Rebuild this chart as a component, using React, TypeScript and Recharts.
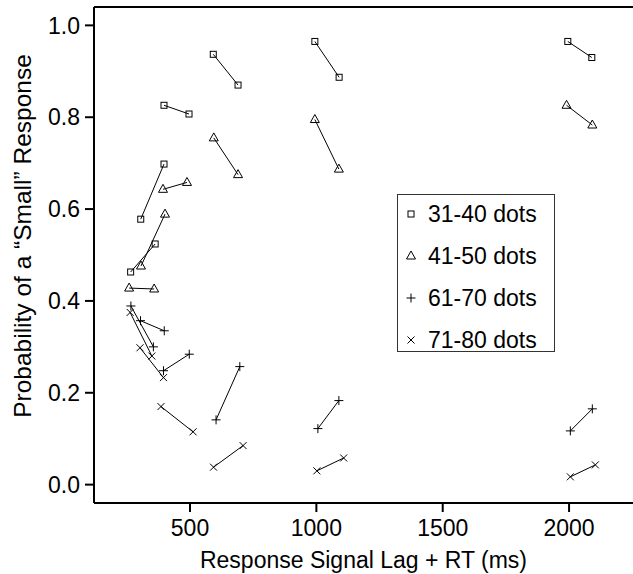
import { ScatterChart, Scatter, XAxis, YAxis, ReferenceLine } from 'recharts'

// pairs are consecutive: [lag, lag + RT]
const squareLag = [265, 362, 305, 397, 397, 496, 592, 690, 994, 1090, 1995, 2090]
const squareProb = [0.463, 0.524, 0.578, 0.698, 0.826, 0.807, 0.937, 0.87, 0.965, 0.887, 0.965, 0.93]

const triangleLag = [259, 358, 306, 401, 393, 488, 594, 690, 994, 1089, 1990, 2092]
const triangleProb = [0.428, 0.426, 0.476, 0.589, 0.643, 0.658, 0.755, 0.675, 0.795, 0.687, 0.826, 0.783]

const plusLag = [266, 355, 304, 398, 395, 497, 603, 697, 1006, 1089, 2005, 2092]
const plusProb = [0.389, 0.3, 0.357, 0.335, 0.248, 0.284, 0.141, 0.257, 0.122, 0.183, 0.117, 0.165]

const crossLag = [263, 349, 302, 395, 385, 512, 593, 710, 1002, 1108, 2005, 2104]
const crossProb = [0.375, 0.28, 0.298, 0.233, 0.17, 0.115, 0.038, 0.085, 0.03, 0.058, 0.017, 0.043]

const legendLabels = ['31-40 dots', '41-50 dots', '61-70 dots', '71-80 dots']
const xTicks = [500, 1000, 1500, 2000]
const yTicks = [0, 0.2, 0.4, 0.6, 0.8, 1.0]

const X_DOMAIN: [number, number] = [120, 2253]
const Y_DOMAIN: [number, number] = [-0.04, 1.04]
const FONT = '"Liberation Sans", Arial, Helvetica, sans-serif'
const TICK_FONT = 23

type Pt = { x: number; y: number }

const toPairs = (xs: number[], ys: number[]) => {
  const out: Pt[][] = []
  for (let i = 0; i < xs.length; i += 2) {
    out.push([
      { x: xs[i], y: ys[i] },
      { x: xs[i + 1], y: ys[i + 1] },
    ])
  }
  return out
}

type Kind = 'square' | 'triangle' | 'plus' | 'cross'

const Marker = ({ kind, cx, cy }: { kind: Kind; cx: number; cy: number }) => {
  const s = { stroke: '#000', strokeWidth: 1, fill: 'none' }
  if (kind === 'square') return <rect x={cx - 3} y={cy - 3} width={6} height={6} {...s} />
  if (kind === 'triangle')
    return <polygon points={`${cx},${cy - 5} ${cx - 4.5},${cy + 3} ${cx + 4.5},${cy + 3}`} {...s} />
  if (kind === 'plus')
    return (
      <g {...s}>
        <line x1={cx - 4.5} y1={cy} x2={cx + 4.5} y2={cy} />
        <line x1={cx} y1={cy - 4.5} x2={cx} y2={cy + 4.5} />
      </g>
    )
  return (
    <g {...s}>
      <line x1={cx - 3.5} y1={cy - 3.5} x2={cx + 3.5} y2={cy + 3.5} />
      <line x1={cx - 3.5} y1={cy + 3.5} x2={cx + 3.5} y2={cy - 3.5} />
    </g>
  )
}

const series: { kind: Kind; pairs: Pt[][] }[] = [
  { kind: 'square', pairs: toPairs(squareLag, squareProb) },
  { kind: 'triangle', pairs: toPairs(triangleLag, triangleProb) },
  { kind: 'plus', pairs: toPairs(plusLag, plusProb) },
  { kind: 'cross', pairs: toPairs(crossLag, crossProb) },
]

const YLabel = () => (
  <text
    x={22}
    y={236}
    transform="rotate(-90, 22, 236)"
    textAnchor="middle"
    dominantBaseline="central"
    fontSize={24.5}
    fontFamily={FONT}
    fill="#000"
  >
    Probability of a “Small” Response
  </text>
)

const XLabel = ({ viewBox }: any) => (
  <text
    x={viewBox.x + viewBox.width / 2}
    y={568}
    textAnchor="middle"
    fontSize={23}
    fontFamily={FONT}
    fill="#000"
  >
    Response Signal Lag + RT (ms)
  </text>
)

const App = () => (
  <div style={{ position: 'absolute', left: 0, top: 0, width: 633, height: 574, background: '#fff' }}>
    <ScatterChart width={633} height={574} margin={{ top: 7, right: 0, bottom: 0, left: 0 }}>
      <XAxis
        type="number"
        dataKey="x"
        domain={X_DOMAIN}
        ticks={xTicks}
        allowDataOverflow
        height={71}
        tickSize={9}
        tickMargin={8}
        axisLine={{ stroke: '#000', strokeWidth: 2 }}
        tickLine={{ stroke: '#000', strokeWidth: 2 }}
        tick={{ fontSize: TICK_FONT, fontFamily: FONT, fill: '#000' }}
        label={<XLabel />}
      />
      <YAxis
        type="number"
        dataKey="y"
        domain={Y_DOMAIN}
        ticks={yTicks}
        allowDataOverflow
        width={94}
        tickSize={9}
        tickMargin={5}
        tickFormatter={(v: number) => v.toFixed(1)}
        axisLine={{ stroke: '#000', strokeWidth: 2 }}
        tickLine={{ stroke: '#000', strokeWidth: 2 }}
        tick={{ fontSize: TICK_FONT, fontFamily: FONT, fill: '#000' }}
        label={<YLabel />}
      />
      <ReferenceLine y={Y_DOMAIN[1]} stroke="#000" strokeWidth={2} />
      {series.map((s) =>
        s.pairs.map((pair, i) => (
          <Scatter
            key={`${s.kind}-${i}`}
            data={pair}
            line={{ stroke: '#000', strokeWidth: 1 }}
            shape={(p: any) => <Marker kind={s.kind} cx={p.cx} cy={p.cy} />}
            isAnimationActive={false}
          />
        ))
      )}
    </ScatterChart>
    <div
      style={{
        position: 'absolute',
        left: 397,
        top: 194,
        width: 158,
        height: 158,
        boxSizing: 'border-box',
        border: '1px solid #333',
        background: '#fff',
        fontFamily: FONT,
        fontSize: TICK_FONT,
      }}
    >
      {legendLabels.map((label, i) => (
        <div
          key={label}
          style={{ position: 'absolute', left: 0, top: 19 + i * 42 - 21, height: 42, display: 'flex', alignItems: 'center' }}
        >
          <svg width={26} height={20} style={{ display: 'block' }}>
            <Marker kind={series[i].kind} cx={13} cy={10} />
          </svg>
          <span style={{ marginLeft: 4, whiteSpace: 'nowrap' }}>{label}</span>
        </div>
      ))}
    </div>
  </div>
)

export default App
